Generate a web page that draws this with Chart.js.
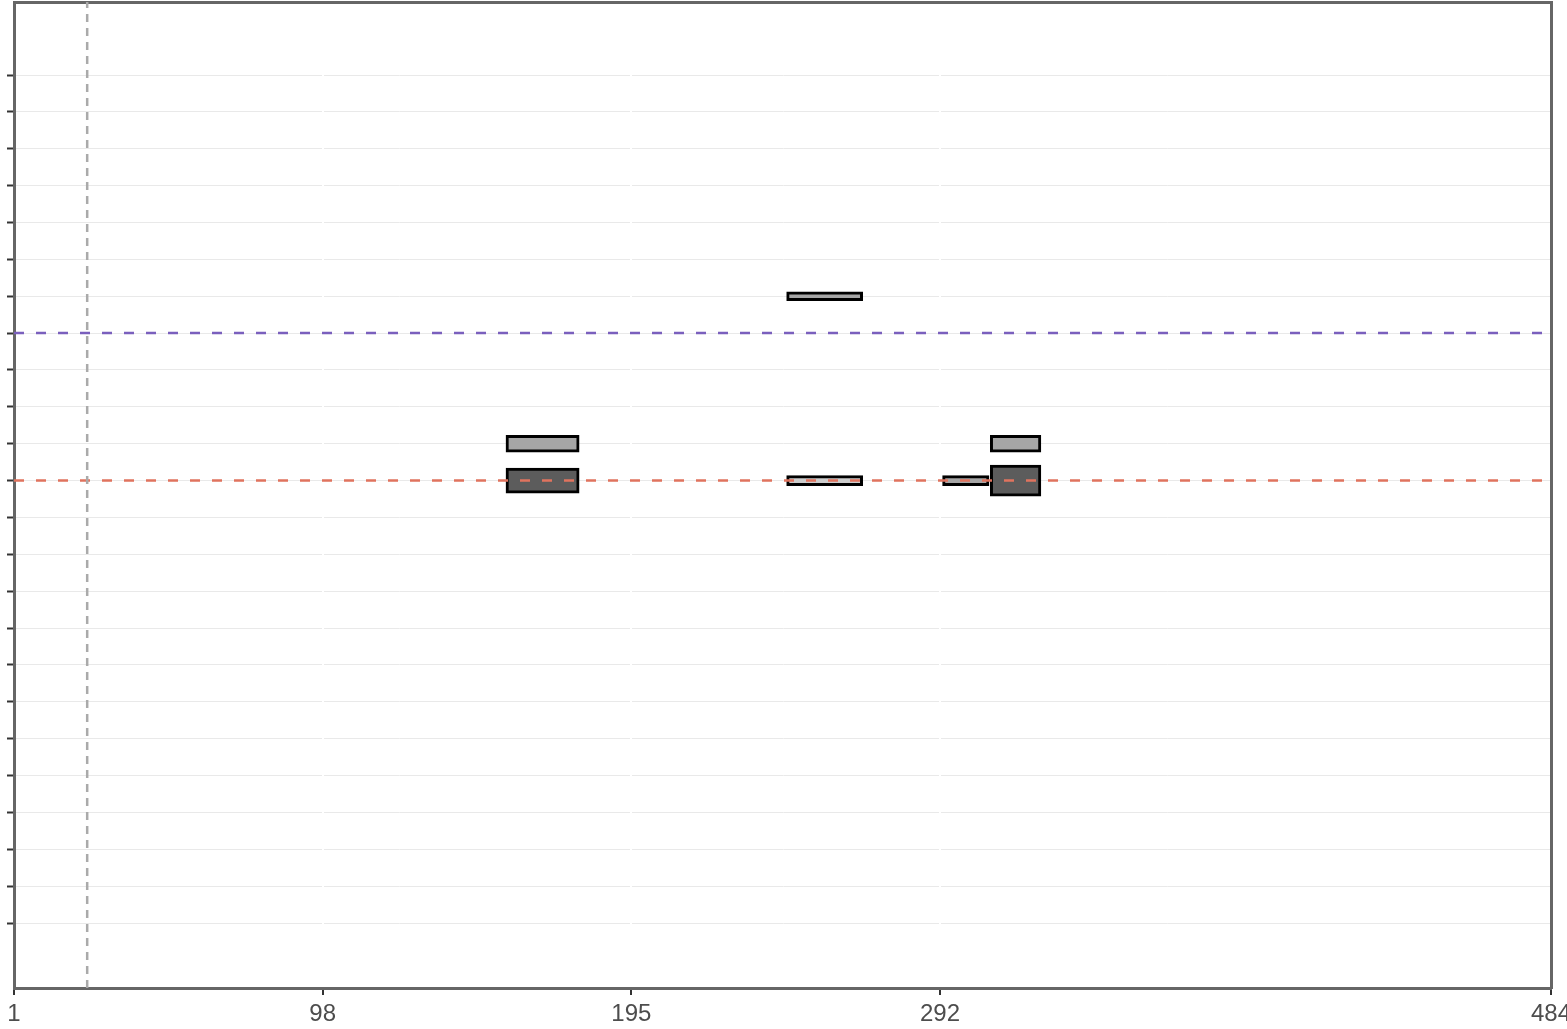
<!DOCTYPE html>
<html><head><meta charset="utf-8">
<script src="https://cdn.jsdelivr.net/npm/chart.js@4/dist/chart.umd.min.js"></script>
<style>html,body{margin:0;padding:0;background:#fff;}canvas{display:block;}</style>
</head><body>
<canvas id="c" width="1567" height="1029"></canvas>
<script>
// ---- data ----
const xTickValues = [1, 98, 195, 292, 484];
const yTickValues = [1,2,3,4,5,6,7,8,9,10,11,12,13,14,15,16,17,18,19,20,21,22,23,24];
const xRange = [1, 484];
const yRange = [-0.76, 25.98];

const rectStart = [243.8, 155.6, 307.8, 155.6, 307.8, 243.8, 292.8];
const rectEnd   = [267.7, 178.6, 323.7, 178.6, 323.7, 267.7, 307.4];
const rectRow   = [18, 14, 14, 13, 13, 13, 13];

const refVerticalX = 24;
const refPurpleY = 17;
const refRedY = 13;

// ---- styles (per rectangle) ----
const rectFill  = ['#a6a6a6', '#a6a6a6', '#a6a6a6', '#5c5c5c', '#5c5c5c', '#cdcdcd', '#a6a6a6'];
const rectThick = [9, 17, 17, 25, 31, 10, 10];

const datasets = [];
rectRow.forEach((r, i) => {
  datasets.push({
    type: 'bar',
    data: [{x: [rectStart[i], rectEnd[i]], y: r}],
    backgroundColor: rectFill[i],
    borderColor: '#000',
    borderWidth: 3,
    borderSkipped: false,
    barThickness: rectThick[i],
    grouped: false,
    order: 2
  });
});
datasets.push({
  type: 'line', indexAxis: 'y',
  data: [{x: refVerticalX, y: yRange[0]}, {x: refVerticalX, y: yRange[1]}],
  borderColor: '#aaaaaa', borderWidth: 2.5, borderDash: [8, 6], pointRadius: 0, order: 0
});
datasets.push({
  type: 'line', indexAxis: 'x',
  data: [{x: xRange[0], y: refPurpleY}, {x: xRange[1], y: refPurpleY}],
  borderColor: '#7a5fbd', borderWidth: 2.5, borderDash: [10, 12], pointRadius: 0, order: 0
});
datasets.push({
  type: 'line', indexAxis: 'x',
  data: [{x: xRange[0], y: refRedY}, {x: xRange[1], y: refRedY}],
  borderColor: '#e0735e', borderWidth: 2.5, borderDash: [10, 12], pointRadius: 0, order: 0
});

new Chart(document.getElementById('c'), {
  type: 'bar',
  data: { datasets },
  options: {
    indexAxis: 'y',
    responsive: false,
    animation: false,
    devicePixelRatio: 1,
    layout: { padding: { left: 7, right: 16, top: 2, bottom: 0 } },
    plugins: { legend: { display: false }, tooltip: { enabled: false } },
    scales: {
      y: {
        type: 'linear', position: 'left',
        min: yRange[0], max: yRange[1], offset: false,
        afterBuildTicks: s => { s.ticks = yTickValues.map(v => ({value: v})); },
        ticks: { display: false },
        grid: { offset: false, color: '#e9e9e9', lineWidth: 1, tickColor: '#333', tickLength: 7, tickWidth: 2 },
        border: { color: '#666', width: 3 }
      },
      y2: {
        type: 'linear', position: 'right', min: yRange[0], max: yRange[1],
        ticks: { display: false },
        grid: { drawOnChartArea: false, drawTicks: false },
        border: { color: '#666', width: 3 }
      },
      x: {
        type: 'linear', position: 'bottom',
        min: xRange[0], max: xRange[1],
        afterBuildTicks: s => { s.ticks = xTickValues.map(v => ({value: v})); },
        afterFit: s => { s.paddingLeft = 0; s.paddingRight = 0; s.height = 41; },
        ticks: { color: '#4d4d4d', font: { family: 'Liberation Sans', size: 24 }, padding: 5, maxRotation: 0, autoSkip: false },
        grid: {
          color: c => (c.tick && (c.tick.value === xRange[0] || c.tick.value === xRange[1])) ? 'rgba(0,0,0,0)' : '#ffffff',
          lineWidth: 2, tickColor: '#333', tickLength: 7, tickWidth: 2
        },
        border: { color: '#666', width: 3 }
      },
      x2: {
        type: 'linear', position: 'top', min: xRange[0], max: xRange[1],
        ticks: { display: false },
        grid: { drawOnChartArea: false, drawTicks: false },
        border: { color: '#666', width: 3 }
      }
    }
  }
});
</script>
</body></html>
